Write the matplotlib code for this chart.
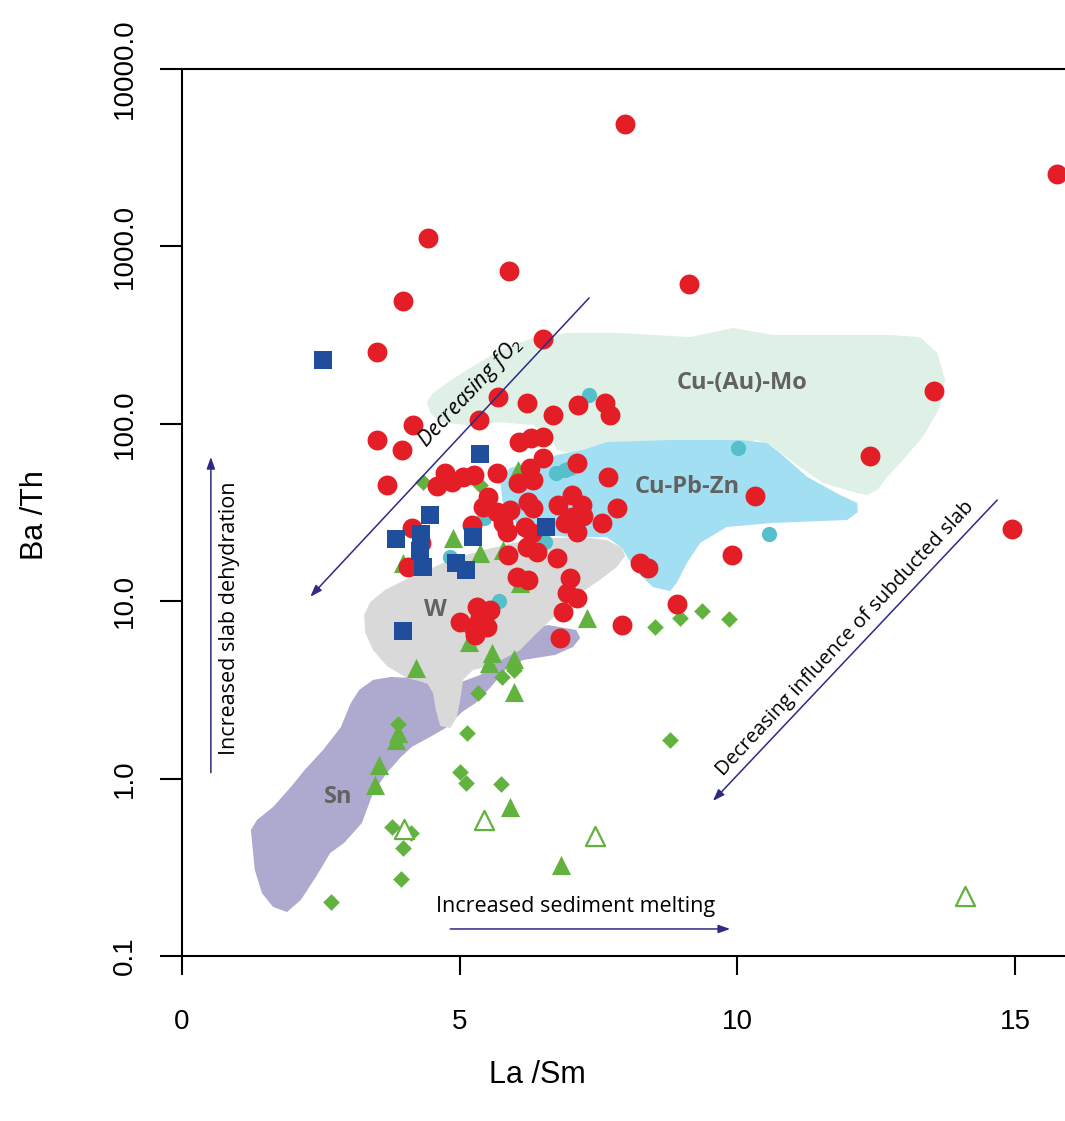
import matplotlib
matplotlib.use('Agg')
import matplotlib.pyplot as plt
from matplotlib.ticker import FixedLocator, NullLocator

plt.rcParams['font.family'] = ['Open Sans', 'DejaVu Sans']
plt.rcParams['mathtext.fontset'] = 'custom'
plt.rcParams['mathtext.it'] = 'Open Sans:italic'
plt.rcParams['mathtext.rm'] = 'Open Sans'

# ---- data (x = La/Sm, y = Ba/Th) ----
red_x = [7.98, 15.76, 4.43, 5.89, 9.13, 3.98, 3.51, 6.50, 13.54, 5.69, 7.62, 7.71, 7.13, 6.21,
         6.68, 5.35, 4.16, 3.51, 3.96, 6.07, 6.28, 6.50, 6.50, 3.69, 4.74, 4.59, 4.86, 5.06,
         5.26, 5.67, 6.27, 6.32, 6.05, 7.11, 7.67, 5.51, 5.42, 5.67, 5.91, 5.78, 5.85, 6.23,
         6.32, 6.18, 6.30, 6.21, 6.39, 5.87, 6.75, 6.77, 7.02, 7.20, 7.02, 7.22, 6.90, 7.11,
         7.56, 7.83, 4.14, 4.30, 4.07, 5.22, 6.03, 6.23, 6.99, 6.93, 7.11, 6.86, 6.81, 7.92,
         8.91, 8.25, 8.39, 9.90, 10.32, 12.39, 14.95, 5.31, 5.55, 5.01, 5.24, 5.49, 5.28, 5.37]
red_y = [4900, 2560, 1115, 727, 614, 492, 254, 301, 153, 142, 131, 112, 128, 131,
         112, 105, 98.4, 81.1, 71.2, 78.9, 83.2, 84.3, 64.2, 45.2, 52.8, 44.6, 47.0, 50.1,
         51.5, 52.8, 56.4, 48.2, 46.4, 60.1, 50.1, 38.7, 34.0, 31.8, 32.7, 27.6, 24.5, 36.3,
         33.5, 26.2, 24.2, 20.2, 18.9, 18.2, 17.5, 34.9, 39.7, 34.9, 29.8, 30.2, 27.6, 24.5,
         27.6, 33.5, 25.9, 21.3, 15.6, 26.9, 13.7, 13.2, 13.5, 11.1, 10.4, 8.69, 6.20, 7.34,
         9.64, 16.4, 15.4, 18.2, 39.2, 65.8, 25.5, 9.27, 8.92, 7.63, 7.16, 7.16, 6.45, 8.15]

blue_x = [2.54, 5.37, 4.47, 3.85, 4.30, 4.29, 4.34, 4.93, 5.11, 5.24, 6.56, 3.98]
blue_y = [229, 67.6, 30.6, 22.4, 23.9, 19.2, 15.6, 16.4, 15.0, 23.0, 26.2, 6.8]

cyan_x = [7.33, 10.01, 10.57, 6.74, 6.90, 6.99, 4.83, 5.71, 5.44, 6.54]
cyan_y = [145, 73, 23.9, 52.8, 54.9, 56.4, 17.8, 10.0, 29.4, 21.6]

tri_x = [7.29, 5.17, 5.58, 5.53, 5.98, 4.21, 5.98, 3.89, 3.85, 3.55, 3.48, 5.91, 6.83,
         6.05, 4.88, 5.37, 3.98, 5.78, 6.09]
tri_y = [8.0, 5.9, 5.1, 4.5, 4.7, 4.2, 3.08, 1.81, 1.65, 1.19, 0.92, 0.69, 0.326,
         55, 22.7, 18.7, 16.4, 19.4, 12.7]

open_tri_x = [4.00, 5.44, 7.44, 14.10]
open_tri_y = [0.52, 0.585, 0.474, 0.218]

dia_x = [4.34, 5.37, 8.52, 8.97, 9.37, 9.85, 5.76, 5.98, 5.33, 3.89, 5.13, 8.79, 5.01,
         5.11, 5.74, 3.78, 4.12, 3.98, 3.94, 2.68]
dia_y = [47, 45.2, 7.16, 8.04, 8.8, 7.94, 3.74, 4.1, 3.04, 2.03, 1.81, 1.65, 1.09,
         0.944, 0.933, 0.533, 0.493, 0.406, 0.272, 0.201]

# ---- field outlines ----
cumo_x = [4.41, 4.52, 4.77, 5.13, 5.73, 6.32, 6.93, 7.89, 9.15, 9.92, 10.64, 11.85, 12.75,
          13.29, 13.60, 13.74, 13.65, 13.34, 12.98, 12.70, 12.52, 12.34, 12.16, 11.54, 11.13,
          10.64, 10.35, 9.33, 7.53, 6.75, 6.63, 6.32, 5.73, 5.13, 4.65, 4.47]
cumo_y = [133, 149, 170, 201, 261, 305, 325, 325, 308, 347, 317, 317, 317,
          308, 251, 177, 124, 84.3, 62.5, 50.1, 42.4, 39.7, 40.7, 46.4, 57.1,
          74.0, 81.1, 62.5, 62.5, 71.2, 84.3, 98.4, 102, 98.4, 102, 115]

cupbzn_x = [5.73, 5.91, 6.27, 6.75, 7.22, 7.65, 8.84, 10.05, 10.53, 10.77, 11.26, 11.85,
            12.16, 12.17, 11.98, 10.64, 9.81, 9.33, 9.09, 8.91, 8.79, 8.48, 8.16, 7.92,
            7.65, 7.04, 6.50, 6.03, 5.78]
cupbzn_y = [48.2, 56.4, 60.9, 66.7, 71.2, 78.9, 81.1, 81.1, 77.9, 68.5, 50.1, 39.7,
            35.8, 31.8, 28.7, 27.6, 26.2, 21.3, 16.4, 12.7, 11.4, 12.0, 15.0, 20.0,
            23.0, 23.0, 23.6, 27.2, 34.9]

w_x = [3.28, 3.39, 3.66, 4.02, 4.29, 4.83, 5.42, 5.96, 6.63, 7.22, 7.65, 7.92, 7.98, 7.83,
       7.53, 7.08, 6.68, 6.39, 6.09, 5.55, 5.24, 5.06, 5.01, 4.95, 4.83, 4.65, 4.57, 4.52,
       4.41, 4.05, 3.69, 3.44, 3.30]
w_y = [8.36, 9.89, 11.6, 13.2, 14.4, 17.1, 19.4, 21.3, 22.7, 23.0, 22.1, 20.0, 18.0, 15.6,
       13.2, 10.6, 8.04, 6.62, 5.31, 4.31, 4.10, 3.60, 2.77, 2.22, 1.93, 1.98, 2.44, 3.04,
       3.46, 3.69, 4.31, 5.31, 6.62]

sn_x = [6.39, 6.59, 7.10, 7.17, 7.04, 6.72, 6.14, 5.82, 5.56, 5.29, 5.04, 4.75, 4.47, 4.14,
        3.94, 3.69, 3.44, 3.24, 2.92, 2.67, 2.41, 2.14, 1.89, 1.64, 1.44, 1.31, 1.24, 1.35,
        1.64, 1.96, 2.21, 2.54, 2.86, 3.04, 3.19, 3.44, 3.76, 4.14, 4.39, 4.74, 5.37, 5.91]
sn_y = [7.06, 7.34, 6.88, 6.20, 5.52, 4.98, 4.66, 4.10, 3.28, 2.67, 2.37, 1.93, 1.72, 1.51,
        1.32, 1.08, 0.830, 0.562, 0.434, 0.381, 0.279, 0.207, 0.177, 0.189, 0.226, 0.306,
        0.513, 0.585, 0.692, 0.897, 1.12, 1.45, 1.95, 2.67, 3.16, 3.60, 3.74, 3.69, 3.46,
        3.24, 3.84, 5.31]

y_ticks = [0.1, 1, 10, 100, 1000, 10000]
y_tick_labels = ['0.1', '1.0', '10.0', '100.0', '1000.0', '10000.0']
x_ticks = [0, 5, 10, 15]

ARROW_COLOR = '#2e2a85'
LABEL_GREY = '#626262'

fig = plt.figure(figsize=(10.65, 11.21), dpi=100)
ax = fig.add_axes([182 / 1065, 165 / 1121, 883 / 1065, 887 / 1121])
ax.set_yscale('log')
ax.set_xlim(0, 15.9)
ax.set_ylim(0.1, 10000)

# fields
ax.fill(cumo_x, cumo_y, color='#dff0e6', lw=0, zorder=1)
ax.fill(cupbzn_x, cupbzn_y, color='#a2dff3', lw=0, zorder=2)
ax.fill(sn_x, sn_y, color='#aeaacf', lw=0, zorder=2)
ax.fill(w_x, w_y, color='#d9d9d9', lw=0, zorder=3)

for lx, ly, name in [(10.08, 170, 'Cu-(Au)-Mo'), (9.09, 44, 'Cu-Pb-Zn'),
                     (4.56, 8.9, 'W'), (2.81, 0.79, 'Sn')]:
    ax.text(lx, ly, name, color=LABEL_GREY, fontsize=17, fontweight='bold',
            ha='center', va='center', zorder=4)

# samples
ax.scatter(dia_x, dia_y, marker='D', s=72, color='#62b23f', lw=0, zorder=5)
ax.scatter(tri_x, tri_y, marker='^', s=190, color='#62b23f', lw=0, zorder=5)
ax.scatter(open_tri_x, open_tri_y, marker='^', s=190, facecolor='white',
           edgecolor='#62b23f', lw=1.6, zorder=5)
ax.scatter(cyan_x, cyan_y, marker='o', s=120, color='#55bfcb', lw=0, zorder=6)
ax.scatter(red_x, red_y, marker='o', s=205, color='#e41e26', lw=0, zorder=7)
ax.scatter(blue_x, blue_y, marker='s', s=150, color='#1f4e9c', lw=0, zorder=8)

# trend arrows
arrow_props = dict(arrowstyle='-|>,head_length=0.7,head_width=0.25', color=ARROW_COLOR,
                   lw=1.1, shrinkA=0, shrinkB=0)
ax.annotate('', xy=(2.31, 10.6), xytext=(7.33, 512), arrowprops=arrow_props, zorder=9)
ax.annotate('', xy=(9.56, 0.748), xytext=(14.68, 37.2), arrowprops=arrow_props, zorder=9)
ax.annotate('', xy=(0.52, 65), xytext=(0.52, 1.08), arrowprops=arrow_props, zorder=9)
ax.annotate('', xy=(9.87, 0.142), xytext=(4.83, 0.142), arrowprops=arrow_props, zorder=9)

ax.text(5.2, 150, r'$Decreasing\ fO_2$', fontsize=15.5, rotation=47,
        rotation_mode='anchor', ha='center', va='center', zorder=9)
ax.text(11.94, 6.12, 'Decreasing influence of subducted slab', fontsize=14.5, rotation=47,
        rotation_mode='anchor', ha='center', va='center', zorder=9)
ax.text(0.86, 8.0, 'Increased slab dehydration', fontsize=15.5, rotation=90,
        ha='center', va='center', zorder=9)
ax.text(7.08, 0.189, 'Increased sediment melting', fontsize=15.5,
        ha='center', va='center', zorder=9)

# axes styling
for side in ['left', 'top', 'bottom']:
    ax.spines[side].set_linewidth(1.5)
ax.spines['right'].set_visible(False)
ax.yaxis.set_major_locator(FixedLocator(y_ticks))
ax.yaxis.set_minor_locator(NullLocator())
ax.set_yticklabels(y_tick_labels)
ax.set_xticks(x_ticks)
ax.tick_params(axis='y', length=16, width=1.5, pad=16, labelsize=20)
ax.tick_params(axis='x', length=14, width=1.5, pad=24, labelsize=20)
for lab in ax.get_yticklabels():
    lab.set_rotation(90)
    lab.set_va('center')
    lab.set_family(['Liberation Sans', 'DejaVu Sans'])
for lab in ax.get_xticklabels():
    lab.set_family(['Liberation Sans', 'DejaVu Sans'])

fig.text(35 / 1065, 1 - 515 / 1121, 'Ba /Th', rotation=90, fontsize=22,
         family=['Liberation Sans', 'DejaVu Sans'], ha='center', va='center')
fig.text(537 / 1065, 1 - 1075 / 1121, 'La /Sm', fontsize=22,
         family=['Liberation Sans', 'DejaVu Sans'], ha='center', va='center')

fig.savefig('out.png', dpi=100)
